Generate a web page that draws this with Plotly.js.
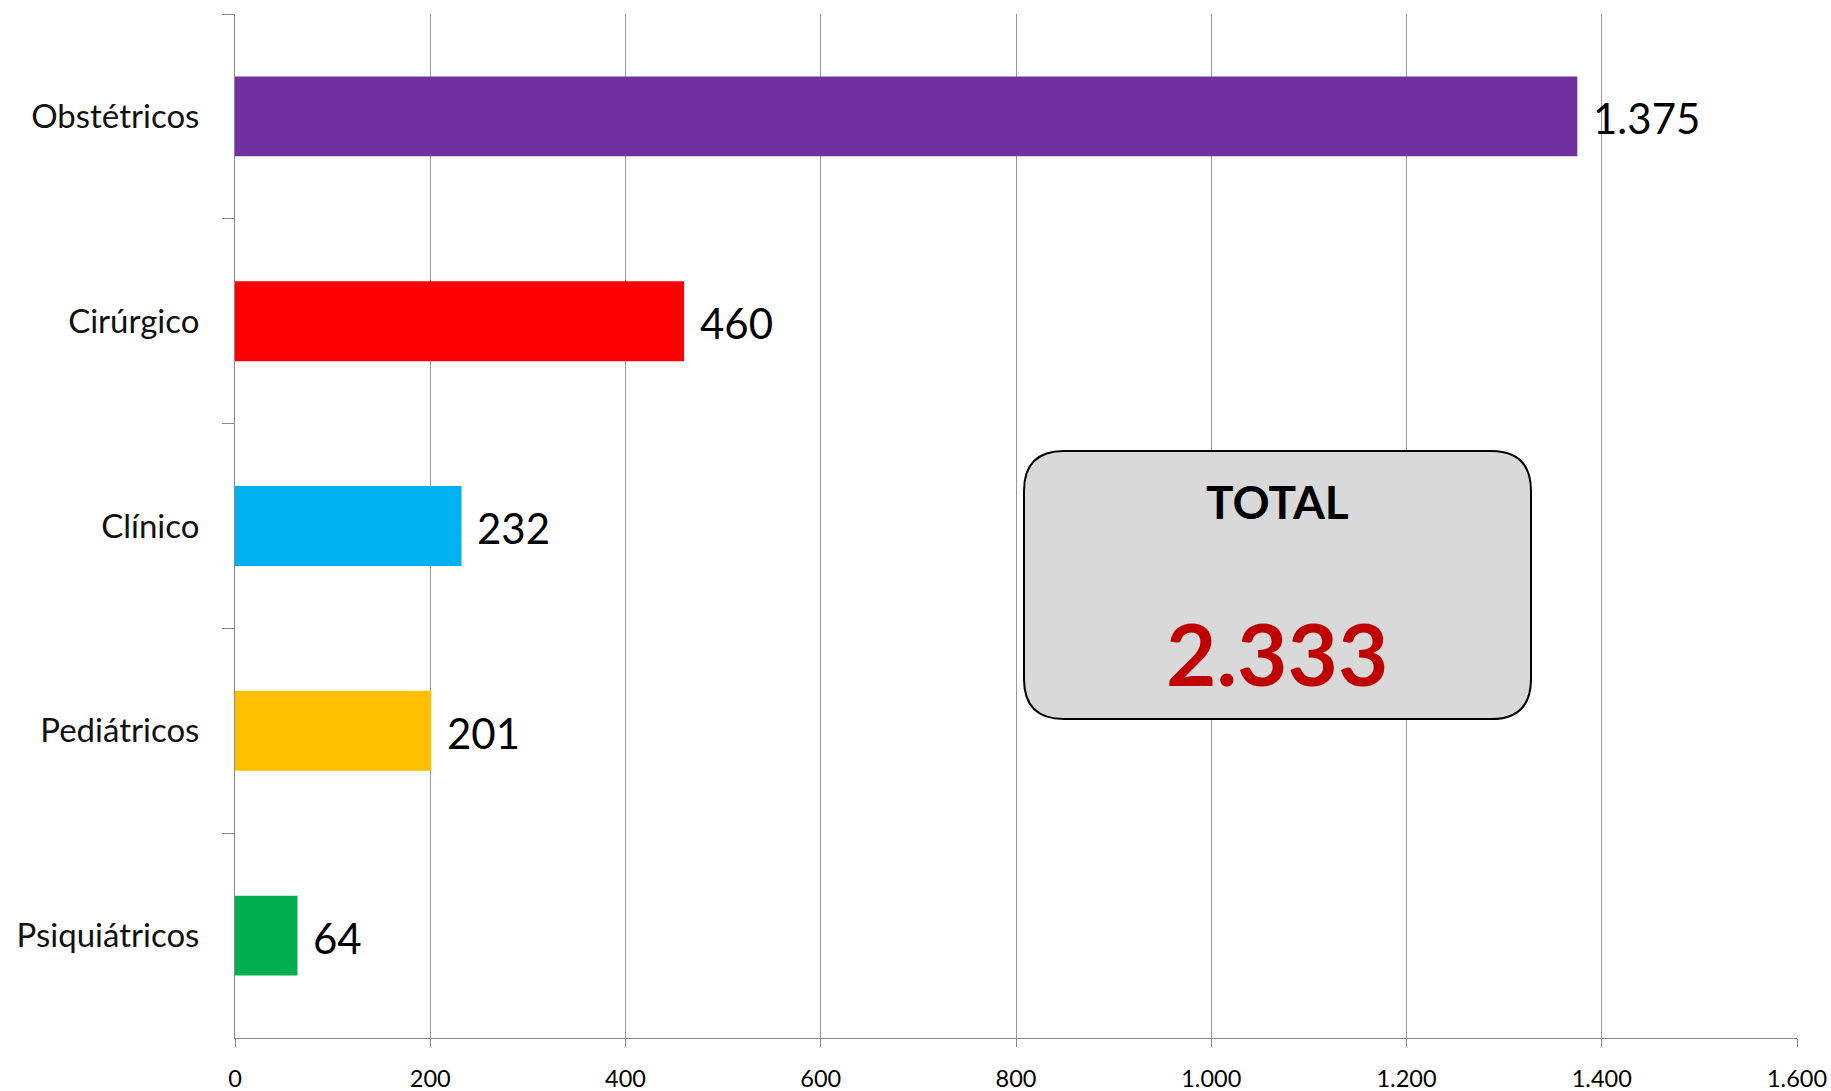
<!DOCTYPE html>
<html>
<head>
<meta charset="utf-8">
<script src="https://cdn.plot.ly/plotly-3.0.1.min.js"></script>
<style>
  html, body { margin: 0; padding: 0; background: #fff; }
  #chart { width: 1831px; height: 1091px; }
</style>
</head>
<body>
<div id="chart"></div>
<script>
// ---- data ----
const categories = ["Obstétricos", "Cirúrgico", "Clínico", "Pediátricos", "Psiquiátricos"];
const values = [1375, 460, 232, 201, 64];
const barColors = ["#7030A0", "#FF0000", "#00B0F0", "#FFC000", "#00B050"];
const xTickVals = [0, 200, 400, 600, 800, 1000, 1200, 1400, 1600];
const totalLabel = "TOTAL";
const totalValue = "2.333";

// ---- layout geometry ----
const W = 1831, H = 1091;
const M = { l: 235, r: 34, t: 14, b: 53 };
const PW = W - M.l - M.r, PH = H - M.t - M.b;
function px2paper(x, y) { return [(x - M.l) / PW, 1 - (y - M.t) / PH]; }

function roundedRectPath(x0, y0, x1, y1, r) {
  const pts = [
    ["M", x0 + r, y0], ["L", x1 - r, y0], ["Q", x1, y0, x1, y0 + r],
    ["L", x1, y1 - r], ["Q", x1, y1, x1 - r, y1],
    ["L", x0 + r, y1], ["Q", x0, y1, x0, y1 - r],
    ["L", x0, y0 + r], ["Q", x0, y0, x0 + r, y0]
  ];
  let s = "";
  pts.forEach(p => {
    s += p[0];
    for (let i = 1; i < p.length; i += 2) {
      const q = px2paper(p[i], p[i + 1]);
      s += (i > 1 ? " " : "") + q[0].toFixed(5) + "," + q[1].toFixed(5);
    }
    s += " ";
  });
  return s + "Z";
}

const box = { x0: 1024, y0: 451, x1: 1531, y1: 719, r: 40 };
const boxCx = (box.x0 + box.x1) / 2;

const trace = {
  type: "bar",
  orientation: "h",
  x: values,
  y: categories,
  marker: { color: barColors, line: { width: 0 } },
  hoverinfo: "skip",
  showlegend: false
};

const fmt = v => v.toLocaleString("de-DE");

const valueAnnotations = values.map((v, i) => ({
  x: v, y: categories[i], xref: "x", yref: "y",
  text: fmt(v), showarrow: false, xanchor: "left", yanchor: "middle",
  xshift: 14, yshift: -2,
  font: { family: "Lato, 'Open Sans', sans-serif", size: 42, color: "#000" }
}));

const tPos = px2paper(boxCx, 501);
const vPos = px2paper(boxCx, 652);

const layout = {
  width: W, height: H,
  margin: M,
  paper_bgcolor: "#fff", plot_bgcolor: "#fff",
  separators: ",.",
  showlegend: false,
  bargap: 0.61,
  font: { family: "Lato, 'Open Sans', sans-serif", color: "#000" },
  xaxis: {
    range: [0, 1600],
    tickvals: xTickVals,
    tickformat: ",d",
    showgrid: true, gridcolor: "#999", gridwidth: 1,
    zeroline: false,
    showline: true, linecolor: "#888", linewidth: 1,
    ticks: "outside", ticklen: 8, tickcolor: "#888", tickwidth: 1,
    tickfont: { family: "Lato, sans-serif", size: 23.5, color: "#000" },
    ticklabelstandoff: 12,
    fixedrange: true
  },
  yaxis: {
    type: "category",
    categoryorder: "array", categoryarray: categories,
    autorange: "reversed",
    showgrid: false, zeroline: false,
    showline: true, linecolor: "#888", linewidth: 1,
    ticks: "outside", ticklen: 12, tickcolor: "#888", tickwidth: 1,
    tickson: "boundaries",
    tickfont: { family: "Lato, sans-serif", size: 33, color: "#111" },
    ticklabelstandoff: 28,
    fixedrange: true
  },
  shapes: [{
    type: "path", xref: "paper", yref: "paper",
    path: roundedRectPath(box.x0, box.y0, box.x1, box.y1, box.r),
    fillcolor: "#D9D9D9",
    line: { color: "#000", width: 2 },
    layer: "above"
  }],
  annotations: valueAnnotations.concat([
    {
      xref: "paper", yref: "paper", x: tPos[0], y: tPos[1],
      text: "<b>" + totalLabel + "</b>", showarrow: false,
      xanchor: "center", yanchor: "middle",
      font: { family: "Lato, sans-serif", size: 46, color: "#000" }
    },
    {
      xref: "paper", yref: "paper", x: vPos[0], y: vPos[1],
      text: "<b>" + totalValue + "</b>", showarrow: false,
      xanchor: "center", yanchor: "middle",
      font: { family: "Lato, sans-serif", size: 87, color: "#C00000" }
    }
  ])
};

Plotly.newPlot("chart", [trace], layout, { staticPlot: true, displayModeBar: false });
</script>
</body>
</html>
